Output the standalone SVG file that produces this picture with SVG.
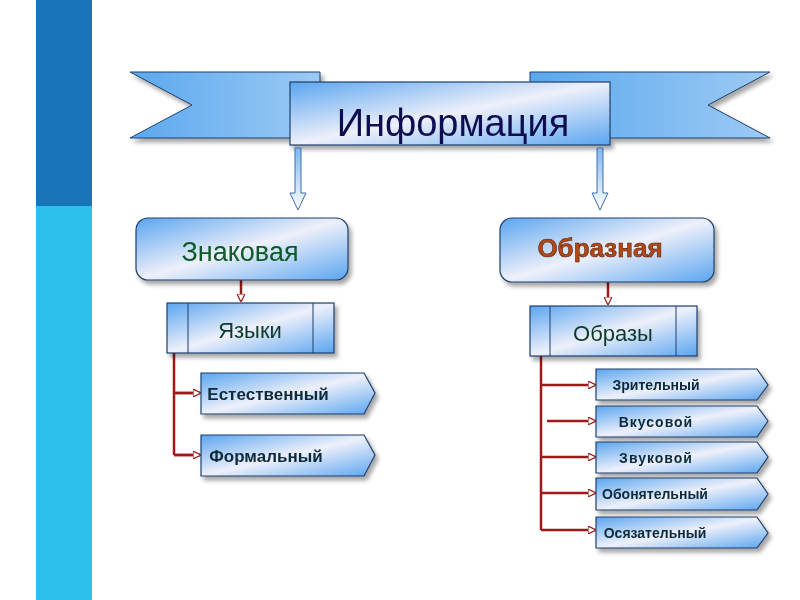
<svg xmlns="http://www.w3.org/2000/svg" width="800" height="600" viewBox="0 0 800 600">
<defs>
<linearGradient id="g" x1="0" y1="0" x2="1" y2="1"><stop offset="0" stop-color="#5aa5f0"/><stop offset="0.5" stop-color="#eef0fa"/><stop offset="1" stop-color="#5aa5f0"/></linearGradient>
<linearGradient id="gr" x1="0" y1="0" x2="1" y2="0"><stop offset="0" stop-color="#5ba8ee"/><stop offset="1" stop-color="#9ccaf4"/></linearGradient>
<linearGradient id="ga" x1="0" y1="0" x2="0" y2="1"><stop offset="0" stop-color="#7db8f0"/><stop offset="1" stop-color="#ffffff"/></linearGradient>
<filter id="sh" x="-10%" y="-10%" width="130%" height="140%"><feDropShadow dx="3" dy="4" stdDeviation="2" flood-color="#000" flood-opacity="0.35"/></filter>
<marker id="ra" markerWidth="8" markerHeight="8" refX="7" refY="4" orient="auto" markerUnits="userSpaceOnUse"><path d="M0,0 L8,4 L0,8 Z" fill="#fff" stroke="#a01818" stroke-width="1.2"/></marker>
</defs>
<style>
.b{stroke:#1f3f6a;stroke-width:1.2;fill:url(#g)}
.t{font-family:"Liberation Sans",Arial,sans-serif;font-weight:bold;text-anchor:middle}
.c{stroke:#a01818;stroke-width:2.5;fill:none}
</style>
<rect x="36" y="0" width="56" height="206" fill="#1a75b8"/>
<rect x="36" y="206" width="56" height="394" fill="#2ec0ec"/>
<g id="banner" filter="url(#sh)">
<path d="M130,72 L320,72 L320,138 L130,138 L192,105 Z" fill="url(#gr)" stroke="#1f3f6a" stroke-width="1"/>
<path d="M770,72 L530,72 L530,138 L770,138 L708,105 Z" fill="url(#gr)" stroke="#1f3f6a" stroke-width="1"/>
<rect x="290" y="82" width="320" height="63" class="b"/>
<text x="453" y="136" class="t" font-size="38" font-weight="normal" fill="#101050" style="font-weight:normal">Информация</text>
</g>
<g id="connectors">
<path d="M295,148 h6 v45 h5 l-8,17 l-8,-17 h5 z" fill="url(#ga)" stroke="#3f6fa8"/>
<path d="M597,148 h6 v45 h5 l-8,17 l-8,-17 h5 z" fill="url(#ga)" stroke="#3f6fa8"/>
<path d="M241,280 V301" class="c" marker-end="url(#ra)"/>
<path d="M608,282 V304" class="c" marker-end="url(#ra)"/>
<path d="M174,353 V455 M174,393 H200 M174,455 H200" class="c"/>
<path d="M174,393 H200" class="c" marker-end="url(#ra)"/>
<path d="M174,455 H200" class="c" marker-end="url(#ra)"/>
<path d="M541,356 V530" class="c"/>
<path d="M541,385 H595" class="c" marker-end="url(#ra)"/>
<path d="M547,421 H595" class="c" marker-end="url(#ra)"/>
<path d="M541,457 H595" class="c" marker-end="url(#ra)"/>
<path d="M541,493 H595" class="c" marker-end="url(#ra)"/>
<path d="M541,530 H595" class="c" marker-end="url(#ra)"/>
</g>
<g id="znak" filter="url(#sh)"><rect x="136" y="218" width="212" height="62" rx="12" class="b"/><text x="240" y="261" class="t" font-size="27" fill="#0c5a28" style="font-weight:normal">Знаковая</text></g>
<g id="obraz" filter="url(#sh)"><rect x="500" y="218" width="214" height="64" rx="12" class="b"/><text x="600" y="257" class="t" font-size="26" fill="#b04818" stroke="#5a1a00" stroke-width="0.6">Образная</text></g>
<g id="yazyki" filter="url(#sh)"><rect x="167" y="303" width="167" height="50" class="b"/><path d="M188,303 V353 M313,303 V353" stroke="#1f3f6a"/><text x="250" y="338" class="t" font-size="22" fill="#0c3a28" style="font-weight:normal">Языки</text></g>
<g id="obrazy" filter="url(#sh)"><rect x="530" y="306" width="167" height="50" class="b"/><path d="M550,306 V356 M676,306 V356" stroke="#1f3f6a"/><text x="613" y="341" class="t" font-size="22" fill="#0c3a28" style="font-weight:normal">Образы</text></g>
<g id="est" filter="url(#sh)"><path d="M201,373 H364 L375,393 L364,414 H201 Z" class="b"/><text x="268" y="400" class="t" font-size="17" fill="#0c2a3a">Естественный</text></g>
<g id="form" filter="url(#sh)"><path d="M201,435 H364 L375,455 L364,476 H201 Z" class="b"/><text x="266" y="462" class="t" font-size="17" fill="#0c2a3a">Формальный</text></g>
<g id="zrit" filter="url(#sh)"><path d="M596,369 H757 L768,385 L757,400 H596 Z" class="b"/><text x="656" y="390" class="t" font-size="14" fill="#0c2a3a">Зрительный</text></g>
<g id="vkus" filter="url(#sh)"><path d="M596,406 H757 L768,421 L757,437 H596 Z" class="b"/><text x="656" y="427" class="t" font-size="14" fill="#0c2a3a" letter-spacing="1">Вкусовой</text></g>
<g id="zvuk" filter="url(#sh)"><path d="M596,442 H757 L768,457 L757,473 H596 Z" class="b"/><text x="656" y="463" class="t" font-size="14" fill="#0c2a3a" letter-spacing="1">Звуковой</text></g>
<g id="obon" filter="url(#sh)"><path d="M596,478 H757 L768,494 L757,510 H596 Z" class="b"/><text x="655" y="499" class="t" font-size="14" fill="#0c2a3a">Обонятельный</text></g>
<g id="osyaz" filter="url(#sh)"><path d="M596,517 H757 L768,533 L757,548 H596 Z" class="b"/><text x="655" y="538" class="t" font-size="14" fill="#0c2a3a">Осязательный</text></g>
</svg>
